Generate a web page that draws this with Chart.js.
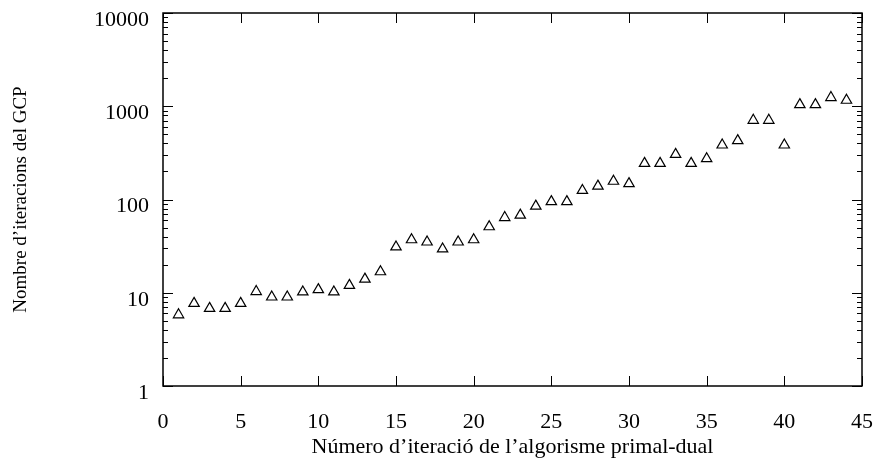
<!DOCTYPE html>
<html lang="ca">
<head>
  <meta charset="UTF-8">
  <title>Iteracions del GCP</title>
  <script src="https://cdn.jsdelivr.net/npm/chart.js"></script>
  <style>
    body { margin: 0; background: #fff; }
    #grafic { display: block; }
  </style>
</head>
<body>
  <canvas id="grafic" width="875" height="458"></canvas>

  <script>
    // dades llegides del gràfic original
    const iteracions = [1, 2, 3, 4, 5, 6, 7, 8, 9, 10, 11, 12, 13, 14, 15, 16, 17, 18, 19, 20, 21, 22,
      23, 24, 25, 26, 27, 28, 29, 30, 31, 32, 33, 34, 35, 36, 37, 38, 39, 40, 41, 42, 43, 44];
    const itersGCP = [5.8, 7.7, 6.8, 6.8, 7.7, 10.3, 9.0, 9.0, 10.2, 10.8, 10.2, 12, 14, 16.8, 31, 37, 35, 29.5,
      35, 37, 51, 64, 68, 85, 95, 95, 125, 139, 157, 148, 244, 244, 305, 244, 274, 384, 428, 707, 707, 384,
      1040, 1040, 1240, 1160];
    const ticksX = [0, 5, 10, 15, 20, 25, 30, 35, 40, 45];
    const decadesY = [1, 10, 100, 1000, 10000];

    const punts = iteracions.map((x, i) => ({ x: x, y: itersGCP[i] }));
    const serif = "'Liberation Serif', 'Times New Roman', serif";
    const font = { family: serif, size: 22 };

    // sense marges automàtics per les etiquetes
    const senseMarges = s => {
      s.paddingTop = 0; s.paddingBottom = 0; s.paddingLeft = 0; s.paddingRight = 0;
    };

    // marc i marques cap a dins (com gnuplot)
    const marcPlugin = {
      id: 'marc',
      afterDraw(chart) {
        const { ctx, chartArea: a, scales } = chart;
        ctx.save();
        ctx.strokeStyle = '#000';
        ctx.lineWidth = 1;
        ctx.beginPath();
        ticksX.forEach(v => {
          const px = Math.round(scales.x.getPixelForValue(v)) + 0.5;
          ctx.moveTo(px, a.bottom); ctx.lineTo(px, a.bottom - 10);
          ctx.moveTo(px, a.top); ctx.lineTo(px, a.top + 10);
        });
        decadesY.forEach((d, i) => {
          const py = Math.round(scales.y.getPixelForValue(d)) + 0.5;
          ctx.moveTo(a.left, py); ctx.lineTo(a.left + 10, py);
          ctx.moveTo(a.right, py); ctx.lineTo(a.right - 10, py);
          if (i < decadesY.length - 1) {
            for (let m = 2; m <= 9; m++) {
              const pm = Math.round(scales.y.getPixelForValue(d * m)) + 0.5;
              ctx.moveTo(a.left, pm); ctx.lineTo(a.left + 5, pm);
              ctx.moveTo(a.right, pm); ctx.lineTo(a.right - 5, pm);
            }
          }
        });
        ctx.stroke();
        ctx.lineWidth = 1.5;
        ctx.strokeRect(a.left, a.top, a.right - a.left, a.bottom - a.top);
        ctx.restore();
      }
    };

    new Chart(document.getElementById('grafic'), {
      type: 'scatter',
      data: {
        datasets: [{
          data: punts,
          pointStyle: 'triangle',
          pointRadius: 6,
          borderColor: '#000',
          borderWidth: 1.2,
          backgroundColor: '#fff'
        }, {
          data: punts,
          pointStyle: 'circle',
          pointRadius: 0.8,
          borderWidth: 0,
          backgroundColor: '#444'
        }]
      },
      options: {
        responsive: false,
        animation: false,
        layout: { padding: { top: 13, right: 13, left: 0, bottom: 0 } },
        plugins: { legend: { display: false }, tooltip: { enabled: false } },
        scales: {
          x: {
            type: 'linear',
            min: 0,
            max: 45,
            grid: { display: false },
            border: { display: false },
            afterFit: s => { s.height = 72; senseMarges(s); },
            afterBuildTicks: s => { s.ticks = ticksX.map(v => ({ value: v })); },
            ticks: { color: '#000', font: font, padding: 15, maxRotation: 0 },
            title: {
              display: true,
              text: 'Número d\u2019iteració de l\u2019algorisme primal-dual',
              color: '#000',
              font: { family: serif, size: 22, lineHeight: 1 },
              padding: { top: 0, bottom: 0 }
            }
          },
          y: {
            type: 'logarithmic',
            min: 1,
            max: 10000,
            grid: { display: false },
            border: { display: false },
            afterFit: s => { s.width = 163; senseMarges(s); },
            afterBuildTicks: s => { s.ticks = decadesY.map(v => ({ value: v, major: true })); },
            ticks: {
              color: '#000',
              font: font,
              padding: 6,
              labelOffset: 7,
              callback: v => String(v)
            },
            title: {
              display: true,
              text: 'Nombre d\u2019iteracions del GCP',
              color: '#000',
              font: { family: serif, size: 19 },
              padding: { top: 10, bottom: 0 }
            }
          }
        }
      },
      plugins: [marcPlugin]
    });
  </script>
</body>
</html>
